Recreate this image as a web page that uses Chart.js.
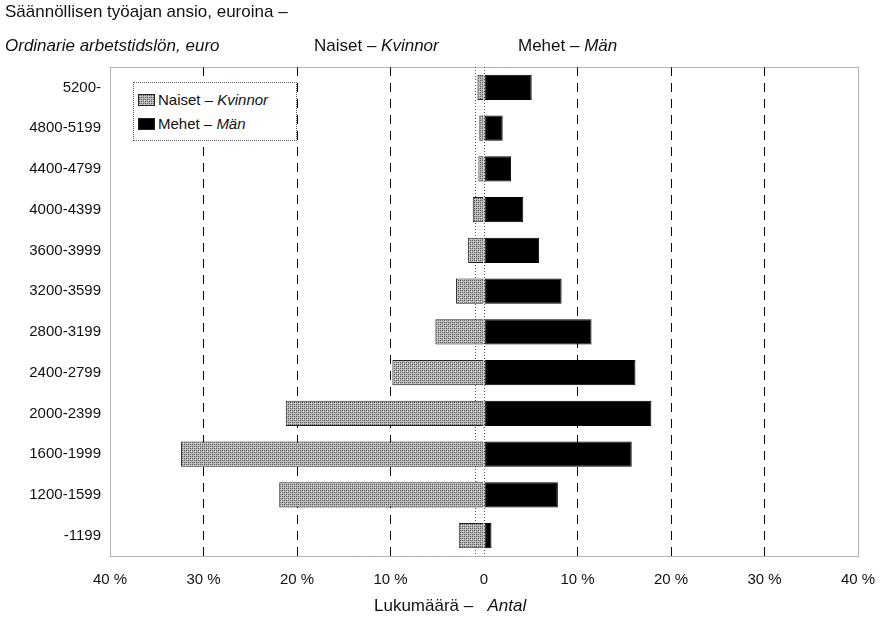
<!DOCTYPE html>
<html>
<head>
<meta charset="utf-8">
<script src="https://cdn.jsdelivr.net/npm/chart.js@4.4.0/dist/chart.umd.min.js"></script>
<style>
  html, body { margin: 0; padding: 0; background: #fff; }
  #wrap { position: relative; width: 894px; height: 622px; font-family: "Liberation Sans", Arial, sans-serif; color: #111; }
  #chart { position: absolute; left: 0; top: 0; }
  .txt { position: absolute; font-size: 17px; white-space: nowrap; }
  #legend { position: absolute; left: 133px; top: 82px; width: 162px; height: 57px; background: #fff; border: 1px dotted #666; font-size: 15px; }
  #legend .row { position: absolute; left: 4px; height: 18px; line-height: 18px; }
  #legend .sw { display: inline-block; width: 15px; height: 10px; border: 1px solid #222; margin-right: 3px; vertical-align: -1px; }
</style>
</head>
<body>
<div id="wrap">
  <canvas id="chart" width="894" height="622"></canvas>
  <div class="txt" style="left:5px;top:2px;">Säännöllisen työajan ansio, euroina –</div>
  <div class="txt" style="left:5px;top:36px;"><i>Ordinarie arbetstidslön, euro</i></div>
  <div class="txt" style="left:314px;top:36px;">Naiset – <i>Kvinnor</i></div>
  <div class="txt" style="left:518px;top:36px;">Mehet – <i>Män</i></div>
  <div class="txt" style="left:374px;top:596px;">Lukumäärä –&nbsp;&nbsp; <i>Antal</i></div>
  <div id="legend">
    <div class="row" style="top:8px;"><span class="sw" id="sw-naiset"></span>Naiset – <i>Kvinnor</i></div>
    <div class="row" style="top:32px;"><span class="sw" style="background:#000;"></span>Mehet – <i>Män</i></div>
  </div>
</div>
<script>
// palkkaluokat ylhäältä alas
const luokat = ["5200-", "4800-5199", "4400-4799", "4000-4399", "3600-3999", "3200-3599",
  "2800-3199", "2400-2799", "2000-2399", "1600-1999", "1200-1599", "-1199"];
// osuudet prosentteina
const naiset = [0.7, 0.5, 0.6, 1.2, 1.7, 3.0, 5.2, 9.8, 21.2, 32.4, 21.9, 2.7];
const miehet = [5.1, 2.0, 2.9, 4.2, 5.9, 8.3, 11.5, 16.2, 17.9, 15.8, 7.9, 0.8];
const xTicks = [-40, -30, -20, -10, 0, 10, 20, 30, 40];

// harmaa rasterikuvio naisten palkeille
function makePattern() {
  const c = document.createElement("canvas");
  c.width = 4; c.height = 4;
  const g = c.getContext("2d");
  g.fillStyle = "#b4b4b4";
  g.fillRect(0, 0, 4, 4);
  g.fillStyle = "#5e5e5e";
  g.fillRect(0, 0, 1, 1); g.fillRect(2, 2, 1, 1);
  g.fillRect(2, 0, 1, 1); g.fillRect(0, 2, 1, 1);
  g.fillStyle = "#dcdcdc";
  g.fillRect(1, 1, 1, 1); g.fillRect(3, 3, 1, 1);
  return c;
}
const patCanvas = makePattern();
const ctx = document.getElementById("chart").getContext("2d");
const pattern = ctx.createPattern(patCanvas, "repeat");
document.getElementById("sw-naiset").style.backgroundImage = "url(" + patCanvas.toDataURL() + ")";

const FONT = "'Liberation Sans', Arial, sans-serif";

// pisteviivakehys ja nollaviivat
const frame = {
  id: "frame",
  beforeDatasetsDraw(chart) {
    const { ctx, chartArea: a, scales } = chart;
    ctx.save();
    ctx.strokeStyle = "#555";
    ctx.lineWidth = 1;
    ctx.setLineDash([1, 2]);
    [-1, 0].forEach((v) => {
      const x = Math.round(scales.x.getPixelForValue(v)) + 0.5;
      ctx.beginPath();
      ctx.moveTo(x, a.top);
      ctx.lineTo(x, a.bottom);
      ctx.stroke();
    });
    ctx.restore();
  },
  afterDraw(chart) {
    const { ctx, chartArea: a } = chart;
    ctx.save();
    ctx.strokeStyle = "#666";
    ctx.lineWidth = 1;
    ctx.setLineDash([1, 1]);
    ctx.strokeRect(Math.round(a.left) + 0.5, Math.round(a.top) + 0.5, Math.round(a.right - a.left), Math.round(a.bottom - a.top));
    ctx.restore();
  },
};

new Chart(ctx, {
  type: "bar",
  data: {
    labels: luokat,
    datasets: [
      { label: "Naiset – Kvinnor", data: naiset.map((v) => -v), backgroundColor: pattern, borderColor: "#222", borderWidth: 1, borderSkipped: false },
      { label: "Mehet – Män", data: miehet, backgroundColor: "#000", borderColor: "#000", borderWidth: 1, borderSkipped: false },
    ],
  },
  options: {
    indexAxis: "y",
    responsive: false,
    animation: false,
    layout: { padding: { left: 0, top: 67, right: 36, bottom: 0 } },
    plugins: { legend: { display: false }, tooltip: { enabled: false } },
    datasets: { bar: { barPercentage: 0.62, categoryPercentage: 1 } },
    scales: {
      x: {
        stacked: true,
        min: -40,
        max: 40,
        afterBuildTicks: (s) => { s.ticks = xTicks.map((v) => ({ value: v })); },
        afterFit: (s) => { s.height = 66; },
        border: { display: false, dash: [9, 7] },
        grid: {
          drawTicks: false,
          color: (c) => (c.tick && Math.abs(c.tick.value) % 40 !== 0 ? "#000" : "rgba(0,0,0,0)"),
          lineWidth: 1,
        },
        ticks: {
          padding: 15,
          color: "#111",
          font: { family: FONT, size: 15 },
          callback: (v) => (v === 0 ? "0" : Math.abs(v) + " %"),
        },
      },
      y: {
        stacked: true,
        afterFit: (s) => { s.width = 110; },
        border: { display: false },
        grid: { display: false, drawTicks: false },
        ticks: { padding: 9, color: "#111", font: { family: FONT, size: 15 } },
      },
    },
  },
  plugins: [frame],
});
</script>
</body>
</html>
